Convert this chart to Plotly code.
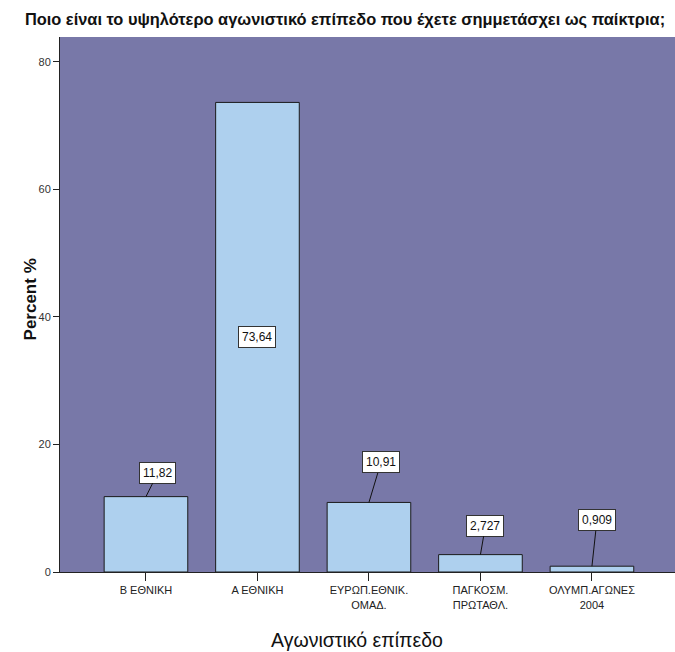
import plotly.graph_objects as go

categories = ["Β ΕΘΝΙΚΗ", "Α ΕΘΝΙΚΗ", "ΕΥΡΩΠ.ΕΘΝΙΚ.<br>ΟΜΑΔ.", "ΠΑΓΚΟΣΜ.<br>ΠΡΩΤΑΘΛ.", "ΟΛΥΜΠ.ΑΓΩΝΕΣ<br>2004"]
percent = [11.82, 73.64, 10.91, 2.727, 0.909]
value_labels = ["11,82", "73,64", "10,91", "2,727", "0,909"]
y_ticks = [0, 20, 40, 60, 80]

title_text = "Ποιο είναι το υψηλότερο αγωνιστικό επίπεδο που έχετε σημμετάσχει ως παίκτρια;"
x_title = "Αγωνιστικό επίπεδο"
y_title = "Percent %"

# label box offsets (pixels) relative to bar top; None = label inside bar
label_offsets = [(12, -24), None, (12, -40), (5, -29), (5, -46)]

FONT = "Liberation Sans, Arial, sans-serif"
idx = list(range(len(categories)))

fig = go.Figure(go.Bar(
    x=idx, y=percent,
    marker=dict(color="#AED0EE", line=dict(color="#1a1a1a", width=1)),
    width=0.75, hoverinfo="skip",
))

for i, (v, lab, off) in enumerate(zip(percent, value_labels, label_offsets)):
    if off is None:
        fig.add_annotation(x=i, y=v / 2, text=lab, showarrow=False,
                           bgcolor="white", bordercolor="#333", borderwidth=1, borderpad=3,
                           font=dict(family=FONT, size=12, color="#111"))
    else:
        fig.add_annotation(x=i, y=v, text=lab, showarrow=True, arrowhead=0,
                           arrowwidth=1, arrowcolor="#111", ax=off[0], ay=off[1],
                           bgcolor="white", bordercolor="#333", borderwidth=1, borderpad=3,
                           font=dict(family=FONT, size=12, color="#111"))

fig.add_annotation(xref="paper", yref="paper", x=-0.067, y=0.51, text=f"<b>{y_title}</b>",
                   textangle=-90, showarrow=False, font=dict(family=FONT, size=17, color="#111"))
fig.add_annotation(xref="paper", yref="paper", x=(357 - 60) / 615, y=-(640 - 572) / 535,
                   yanchor="middle", text=x_title, showarrow=False,
                   font=dict(family=FONT, size=19.5, color="#111"))

fig.update_layout(
    width=675, height=652,
    margin=dict(l=60, r=0, t=37, b=80),
    paper_bgcolor="white", plot_bgcolor="#7878A8",
    showlegend=False,
    title=dict(text=f"<b>{title_text}</b>", x=345 / 675, xanchor="center", y=1 - 19 / 652,
               yanchor="middle", font=dict(family=FONT, size=16.4, color="#111")),
    bargap=0.25,
)
fig.update_xaxes(
    range=[-0.771, 4.745], tickvals=idx, ticktext=categories,
    ticks="outside", ticklen=8, tickcolor="#222", showline=True, linecolor="#222", linewidth=1,
    showgrid=False, zeroline=False,
    tickfont=dict(family=FONT, size=11, color="#222"),
)
fig.update_yaxes(
    range=[0, 83.9], tickvals=y_ticks, ticks="outside", ticklen=6, tickcolor="#222",
    showline=True, linecolor="#222", linewidth=1, showgrid=False, zeroline=False,
    tickfont=dict(family=FONT, size=11, color="#333"),
)

fig.write_html("out.html", config={"displayModeBar": False},
               post_script="document.body.style.margin='0';")
